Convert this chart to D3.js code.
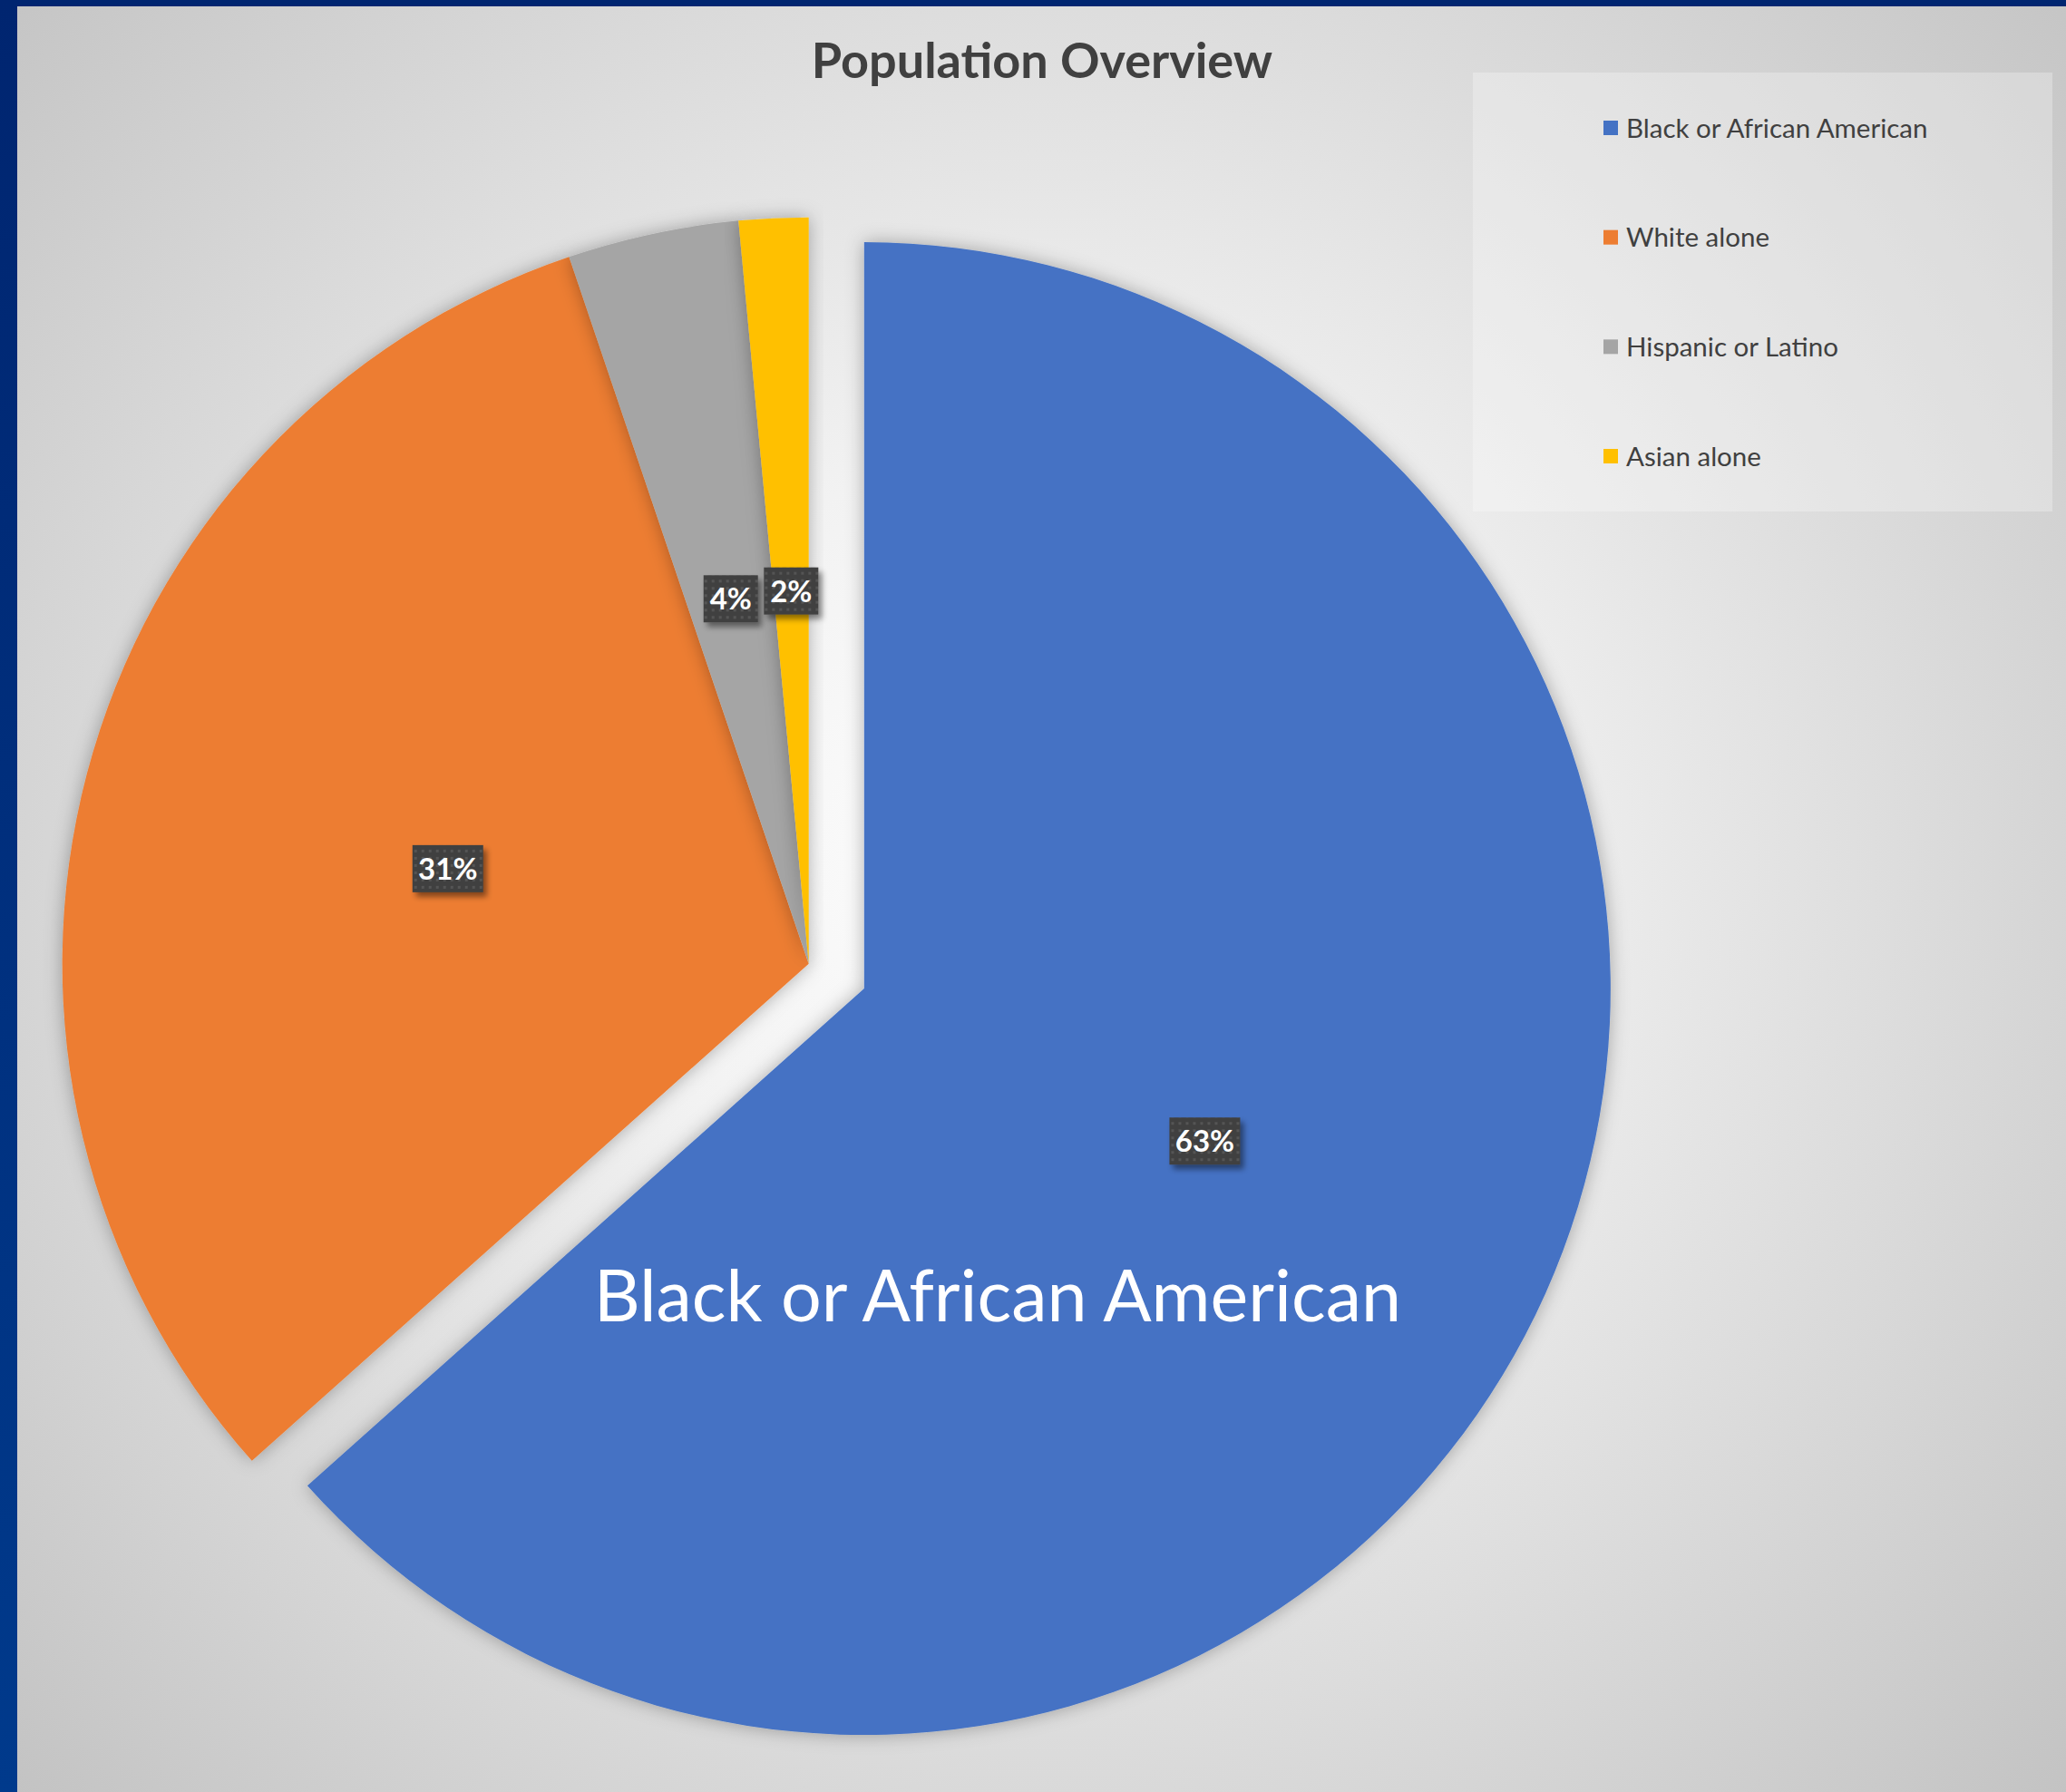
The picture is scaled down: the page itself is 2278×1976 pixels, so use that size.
<!DOCTYPE html>
<html>
<head>
<meta charset="utf-8">
<script src="https://cdn.jsdelivr.net/npm/d3@7"></script>
<style>
    body { margin: 0; background: #00296f; }
    svg { display: block; }
</style>
</head>
<body>
<div id="chart"></div>
<script>
// data (percent of population)
const groups = ["Black or African American", "White alone", "Hispanic or Latino", "Asian alone"];
const shares = [63.4, 31.4, 3.7, 1.5];
const colors = ["#4472C4", "#ED7D31", "#A5A5A5", "#FFC000"];
const title = "Population Overview";
const callout = "Black or African American";

let width = 2278,
    height = 1976,
    radius = 823,
    cx = 891.7,
    cy = 1062.7,
    explode = 67;

let svg = d3.select("#chart").append("svg")
    .attr("width", width)
    .attr("height", height);

let defs = svg.append("defs");

// blue frame round the chart area
let frame = defs.append("linearGradient").attr("id", "frame")
    .attr("x1", 0).attr("y1", 0).attr("x2", 0).attr("y2", 1);
frame.append("stop").attr("offset", 0).attr("stop-color", "#002570");
frame.append("stop").attr("offset", 1).attr("stop-color", "#003a8c");

let bg = defs.append("radialGradient").attr("id", "bg")
    .attr("gradientUnits", "userSpaceOnUse")
    .attr("cx", 1150).attr("cy", 950).attr("r", 1550);
bg.append("stop").attr("offset", 0).attr("stop-color", "#ffffff");
bg.append("stop").attr("offset", 0.3).attr("stop-color", "#f2f2f2");
bg.append("stop").attr("offset", 1).attr("stop-color", "#c2c2c2");

let shadow = defs.append("filter").attr("id", "shadow")
    .attr("x", "-20%").attr("y", "-20%").attr("width", "140%").attr("height", "140%");
shadow.append("feDropShadow")
    .attr("dx", 0).attr("dy", 0).attr("stdDeviation", 10)
    .attr("flood-color", "#000").attr("flood-opacity", 0.3);

let boxShadow = defs.append("filter").attr("id", "boxShadow")
    .attr("x", "-30%").attr("y", "-30%").attr("width", "160%").attr("height", "160%");
boxShadow.append("feDropShadow")
    .attr("dx", 4).attr("dy", 5).attr("stdDeviation", 3)
    .attr("flood-color", "#000").attr("flood-opacity", 0.45);

let dots = defs.append("pattern").attr("id", "dots")
    .attr("patternUnits", "userSpaceOnUse")
    .attr("width", 8).attr("height", 8);
dots.append("rect").attr("width", 8).attr("height", 8).attr("fill", "#404040");
dots.append("rect").attr("x", 3).attr("y", 3).attr("width", 3).attr("height", 3).attr("fill", "#555555");

svg.append("rect")
    .attr("width", width).attr("height", height)
    .attr("fill", "url(#frame)");

svg.append("rect")
    .attr("x", 19).attr("y", 7)
    .attr("width", width - 19).attr("height", height - 7)
    .attr("fill", "url(#bg)");

svg.append("text")
    .attr("x", 1149)
    .attr("y", 86)
    .attr("text-anchor", "middle")
    .attr("font-family", "Lato, sans-serif")
    .attr("font-weight", "bold")
    .attr("font-size", 54)
    .attr("fill", "#404040")
    .text(title);

// legend
let legend = svg.append("g");
legend.append("rect")
    .attr("x", 1624).attr("y", 80)
    .attr("width", 639).attr("height", 484)
    .attr("fill", "#ffffff").attr("fill-opacity", 0.28);

let legendY = d3.scalePoint()
    .domain(groups)
    .range([141, 503]);

let items = legend.selectAll(".item")
    .data(groups)
    .enter()
    .append("g")
    .attr("class", "item")
    .attr("transform", function (d) {
        return "translate(1768," + legendY(d) + ")";
    });

items.append("rect")
    .attr("x", 0).attr("y", -8)
    .attr("width", 16).attr("height", 16)
    .attr("fill", function (d, i) { return colors[i]; });

items.append("text")
    .attr("x", 25)
    .attr("dy", "0.36em")
    .attr("font-family", "Lato, sans-serif")
    .attr("font-size", 29.5)
    .attr("fill", "#404040")
    .text(function (d) { return d; });

// pie
let pie = d3.pie()
    .sort(null)
    .value(function (d) { return d; });

let arcs = pie(shares);

let arc = d3.arc()
    .innerRadius(0)
    .outerRadius(radius);

function offset(d, i) {
    if (i !== 0) return [0, 0];
    let a = (d.startAngle + d.endAngle) / 2;
    return [Math.sin(a) * explode, -Math.cos(a) * explode];
}

let g = svg.append("g")
    .attr("transform", "translate(" + cx + "," + cy + ")");

g.selectAll(".slice")
    .data(arcs)
    .enter()
    .append("path")
    .attr("class", "slice")
    .attr("fill", function (d, i) { return colors[i]; })
    .attr("filter", "url(#shadow)")
    .attr("transform", function (d, i) {
        return "translate(" + offset(d, i) + ")";
    })
    .attr("d", arc);

let labels = g.selectAll(".lbl")
    .data(arcs)
    .enter()
    .append("g")
    .attr("class", "lbl")
    .attr("transform", function (d, i) {
        let c = arc.centroid(d), o = offset(d, i);
        return "translate(" + (c[0] + o[0]) + "," + (c[1] + o[1]) + ")";
    });

labels.append("rect")
    .attr("x", function (d) { return d.value >= 10 ? -39 : -30; })
    .attr("y", -26)
    .attr("width", function (d) { return d.value >= 10 ? 78 : 60; })
    .attr("height", 52)
    .attr("fill", "url(#dots)")
    .attr("filter", "url(#boxShadow)");

labels.append("text")
    .attr("text-anchor", "middle")
    .attr("dy", "0.36em")
    .attr("font-family", "Lato, sans-serif")
    .attr("font-weight", "bold")
    .attr("font-size", 33)
    .attr("fill", "#ffffff")
    .text(function (d) { return Math.round(d.value) + "%"; });

// callout inside the exploded slice
let o0 = offset(arcs[0], 0);
g.append("text")
    .attr("x", o0[0] + 147)
    .attr("y", o0[1] + 338)
    .attr("dy", "0.36em")
    .attr("text-anchor", "middle")
    .attr("font-family", "Lato, sans-serif")
    .attr("font-size", 79)
    .attr("fill", "#ffffff")
    .text(callout);
</script>
</body>
</html>
